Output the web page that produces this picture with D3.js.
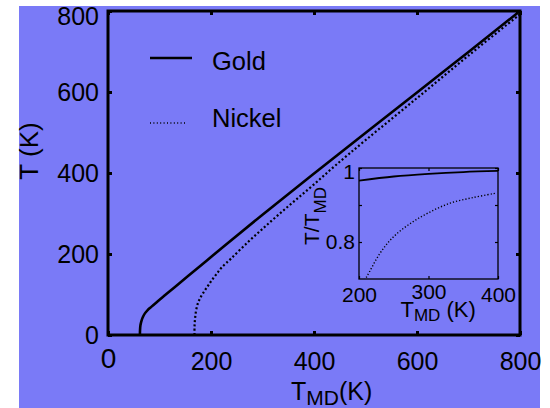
<!DOCTYPE html>
<html>
<head>
<meta charset="utf-8">
<script src="https://cdn.jsdelivr.net/npm/d3@7"></script>
<style>
  html, body { margin: 0; padding: 0; background: #ffffff; }
  svg { display: block; }
  text { font-family: "Liberation Sans", Arial, Helvetica, sans-serif; fill: #000; }
</style>
</head>
<body>
<svg id="chart" width="550" height="408"></svg>
<script>
// ---- Main plot data (T_MD in K, T in K) ----
const goldTmd   = [62, 62.2, 63, 65, 68, 72, 77, 84, 94, 111, 130, 156, 192, 224, 300, 450, 600, 700, 800];
const goldT     = [0, 12, 24, 35, 45, 54, 61.5, 69.5, 80.5, 98.5, 118.5, 146, 184, 218, 297, 449, 599, 699, 800];
const nickelTmd = [168, 168, 169, 171, 175, 181, 188, 195, 202, 211, 221, 240, 273, 300, 331, 364, 400, 441, 500, 600, 700, 800];
const nickelT   = [0, 20, 40, 60, 80, 96, 110, 123, 136, 151, 167, 190, 231, 262, 297, 333, 372, 418, 481, 585, 690, 792];

// ---- Inset data (T_MD in K, T/T_MD) ----
const insetGoldTmd   = [200, 250, 300, 350, 400];
const insetGoldRatio = [0.966, 0.977, 0.984, 0.989, 0.992];
const insetNiTmd     = [205, 211, 230, 249, 273, 300, 331, 364, 397];
const insetNiRatio   = [0.69, 0.706, 0.769, 0.813, 0.849, 0.879, 0.905, 0.920, 0.932];

// ---- Tick values / labels ----
const mainTicks   = [0, 200, 400, 600, 800];
const insetXTicks = [200, 300, 400];
const insetYTicks = [0.8, 0.9, 1.0];
const insetYLabels = ["0.8", "", "1"];
const seriesNames = ["Gold", "Nickel"];

const svg = d3.select("#chart");
svg.append("rect").attr("x", 19).attr("y", 6).attr("width", 521).attr("height", 402).attr("fill", "#7a7af7");

const x = d3.scaleLinear().domain([0, 800]).range([108, 520]);
const y = d3.scaleLinear().domain([0, 800]).range([335, 11]);

const FS = 25;

// ---- Main axes ----
const gx = svg.append("g").attr("transform", `translate(0,${y(0)})`)
  .call(d3.axisBottom(x).tickValues(mainTicks).tickSize(-4).tickPadding(17).tickFormat(d3.format("d")));
const gy = svg.append("g").attr("transform", `translate(${x(0)},0)`)
  .call(d3.axisLeft(y).tickValues(mainTicks).tickSize(-4).tickPadding(9).tickFormat(d3.format("d")));
const gt = svg.append("g").attr("transform", `translate(0,${y(800)})`)
  .call(d3.axisTop(x).tickValues(mainTicks).tickSize(-4).tickFormat(""));
const gr = svg.append("g").attr("transform", `translate(${x(800)},0)`)
  .call(d3.axisRight(y).tickValues(mainTicks).tickSize(-4).tickFormat(""));
[gx, gy, gt, gr].forEach(g => {
  g.select(".domain").remove();
  g.selectAll(".tick line").attr("stroke", "#000").attr("stroke-width", 3);
  g.selectAll(".tick text").style("font-size", FS + "px").attr("fill", "#000")
    .style("font-family", '"Liberation Sans", Arial, sans-serif');
});
gx.selectAll(".tick").filter(d => d === 0).select("text").style("font-size", "28px").attr("y", 13);
gy.selectAll(".tick").filter(d => d === 800).select("text").attr("dy", "0.52em");

// ---- Main curves ----
const line = d3.line().x(d => x(d[0])).y(d => y(d[1])).curve(d3.curveCatmullRom.alpha(0.5));
const goldData = goldTmd.map((v, i) => [v, goldT[i]]);
const niData = nickelTmd.map((v, i) => [v, nickelT[i]]);
svg.append("path").datum(niData).attr("d", line).attr("fill", "none")
  .attr("stroke", "#000").attr("stroke-width", 2.2).attr("stroke-dasharray", "2,2.3");
svg.append("path").datum(goldData).attr("d", line).attr("fill", "none")
  .attr("stroke", "#000").attr("stroke-width", 2.6);

// Frame
svg.append("rect").attr("x", x(0)).attr("y", y(800)).attr("width", x(800) - x(0)).attr("height", y(0) - y(800))
  .attr("fill", "none").attr("stroke", "#000").attr("stroke-width", 3);

// ---- Axis titles ----
const xt = svg.append("text").attr("x", 291).attr("y", 400).style("font-size", FS + "px");
xt.append("tspan").text("T");
xt.append("tspan").attr("dy", 5).style("font-size", "21px").text("MD");
xt.append("tspan").attr("dy", -5).text("(K)");

svg.append("text").attr("transform", "translate(38,151) rotate(-90)").attr("text-anchor", "middle")
  .style("font-size", "26px").text("T (K)");

// ---- Legend ----
svg.append("line").attr("x1", 150).attr("x2", 192).attr("y1", 58).attr("y2", 58)
  .attr("stroke", "#000").attr("stroke-width", 2.6);
svg.append("text").attr("x", 212).attr("y", 70).style("font-size", "25.5px").text(seriesNames[0]);
svg.append("line").attr("x1", 150).attr("x2", 186).attr("y1", 123).attr("y2", 123)
  .attr("stroke", "#000").attr("stroke-width", 1.6).attr("stroke-dasharray", "1,2.4");
svg.append("text").attr("x", 212).attr("y", 127).style("font-size", "25.5px").text(seriesNames[1]);

// ---- Inset ----
const xi = d3.scaleLinear().domain([200, 400]).range([359, 498]);
const yi = d3.scaleLinear().domain([0.7, 1.0]).range([279, 168]);
const IFS = 21;

svg.append("clipPath").attr("id", "insetClip").append("rect")
  .attr("x", xi(200)).attr("y", yi(1.0)).attr("width", xi(400) - xi(200)).attr("height", yi(0.7) - yi(1.0));

const ix = svg.append("g").attr("transform", `translate(0,${yi(0.7)})`)
  .call(d3.axisBottom(xi).tickValues(insetXTicks).tickSize(-3).tickPadding(7.6).tickFormat(d3.format("d")));
const iy = svg.append("g").attr("transform", `translate(${xi(200)},0)`)
  .call(d3.axisLeft(yi).tickValues(insetYTicks).tickSize(-3).tickPadding(4).tickFormat((d, i) => insetYLabels[i]));
const itop = svg.append("g").attr("transform", `translate(0,${yi(1.0)})`)
  .call(d3.axisTop(xi).tickValues(insetXTicks).tickSize(-3).tickFormat(""));
const iright = svg.append("g").attr("transform", `translate(${xi(400)},0)`)
  .call(d3.axisRight(yi).tickValues(insetYTicks).tickSize(-3).tickFormat(""));
[ix, iy, itop, iright].forEach(g => {
  g.select(".domain").remove();
  g.selectAll(".tick line").attr("stroke", "#000").attr("stroke-width", 1.2);
  g.selectAll(".tick text").style("font-size", IFS + "px").attr("fill", "#000")
    .style("font-family", '"Liberation Sans", Arial, sans-serif');
});
ix.selectAll(".tick").filter(d => d === 300).select("text").attr("dy", "0.61em");
iy.selectAll(".tick").filter(d => d === 1.0).select("text").attr("dy", "0.48em");

const iline = d3.line().x(d => xi(d[0])).y(d => yi(d[1])).curve(d3.curveCatmullRom.alpha(0.5));
const ig = svg.append("g").attr("clip-path", "url(#insetClip)");
ig.append("path").datum(insetNiTmd.map((v, i) => [v, insetNiRatio[i]])).attr("d", iline)
  .attr("fill", "none").attr("stroke", "#000").attr("stroke-width", 1.4).attr("stroke-dasharray", "1.2,2");
ig.append("path").datum(insetGoldTmd.map((v, i) => [v, insetGoldRatio[i]])).attr("d", iline)
  .attr("fill", "none").attr("stroke", "#000").attr("stroke-width", 1.8);

svg.append("rect").attr("x", xi(200)).attr("y", yi(1.0)).attr("width", xi(400) - xi(200)).attr("height", yi(0.7) - yi(1.0))
  .attr("fill", "none").attr("stroke", "#000").attr("stroke-width", 1.3);

// Inset titles
const ixt = svg.append("text").attr("x", 400.5).attr("y", 316.5).style("font-size", "22px");
ixt.append("tspan").text("T");
ixt.append("tspan").attr("dy", 4).style("font-size", "17px").text("MD");
ixt.append("tspan").attr("dy", -4).text(" (K)");

const iyt = svg.append("text").attr("transform", "translate(319,245) rotate(-90)").style("font-size", "21px");
iyt.append("tspan").text("T/T");
iyt.append("tspan").attr("dy", 7).style("font-size", "17px").text("MD");
</script>
</body>
</html>
